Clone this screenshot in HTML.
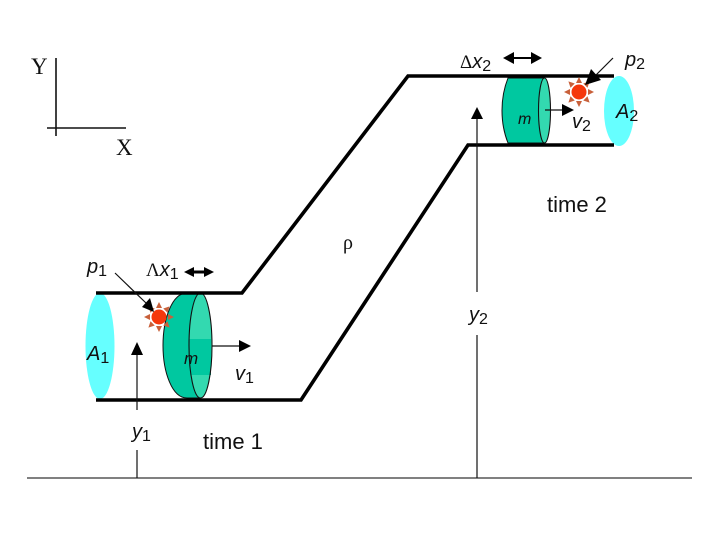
<!DOCTYPE html>
<html><head><meta charset="utf-8"><style>
html,body{margin:0;padding:0;background:#fff;width:720px;height:540px;overflow:hidden}
svg{display:block}
text{font-family:"Liberation Sans",sans-serif;fill:#111}
.s{font-family:"Liberation Serif",serif}
</style></head><body>
<svg width="720" height="540" viewBox="0 0 720 540" xmlns="http://www.w3.org/2000/svg">
<defs>
<g id="sun">
<g fill="#c8603a">
<path d="M-3,-9 L3,-9 L0,-15 Z"/>
<path d="M-3,-9 L3,-9 L0,-15 Z" transform="rotate(45)"/>
<path d="M-3,-9 L3,-9 L0,-15 Z" transform="rotate(90)"/>
<path d="M-3,-9 L3,-9 L0,-15 Z" transform="rotate(135)"/>
<path d="M-3,-9 L3,-9 L0,-15 Z" transform="rotate(180)"/>
<path d="M-3,-9 L3,-9 L0,-15 Z" transform="rotate(225)"/>
<path d="M-3,-9 L3,-9 L0,-15 Z" transform="rotate(270)"/>
<path d="M-3,-9 L3,-9 L0,-15 Z" transform="rotate(315)"/>
</g>
<circle r="7.5" fill="#f5380c"/>
</g>
</defs>

<!-- ground -->
<line x1="27" y1="478" x2="692" y2="478" stroke="#808080" stroke-width="2"/>

<!-- axes -->
<line x1="56" y1="58" x2="56" y2="136" stroke="#111" stroke-width="1.600"/>
<line x1="47" y1="128" x2="126" y2="128" stroke="#111" stroke-width="1.400"/>
<text class="s" x="31" y="74" font-size="23">Y</text>
<text class="s" x="116" y="155" font-size="23">X</text>

<!-- A ellipses -->
<ellipse cx="100" cy="346" rx="14.500" ry="53" fill="#66ffff"/>
<ellipse cx="619" cy="111" rx="15" ry="35" fill="#66ffff"/>

<!-- left cylinder -->
<path d="M187,293 L200,293 L200,398 L187,398 C172,398 163,372 163,345.500 C163,319 172,293 187,293 Z" fill="#00c8a0" stroke="#111" stroke-width="1"/>
<ellipse cx="200.500" cy="345.500" rx="11.500" ry="52.500" fill="#33d9b0"/>
<path d="M189,339 H211 V375 H190 Z" fill="#00c8a0"/>
<ellipse cx="200.500" cy="345.500" rx="11.500" ry="52.500" fill="none" stroke="#111" stroke-width="1.100"/>

<!-- right cylinder -->
<path d="M508,78 L544,78 L544,143 L508,143 C504,133 502,122 502,110.500 C502,99 504,88 508,78 Z" fill="#00c8a0" stroke="#111" stroke-width="1"/>
<ellipse cx="544.500" cy="110.500" rx="6" ry="32.500" fill="#33d9b0" stroke="#111" stroke-width="1.100"/>

<!-- pipes -->
<g fill="none" stroke="#000" stroke-width="3.600" stroke-linejoin="miter">
<polyline points="96,293 242,293 408,76 614,76"/>
<polyline points="96,400 301,400 468,145 614,145"/>
</g>

<!-- suns -->
<use href="#sun" transform="translate(159,317)"/>
<use href="#sun" transform="translate(579,92)"/>

<!-- y arrows -->
<g stroke="#111" stroke-width="1.200" fill="none">
<line x1="137" y1="355" x2="137" y2="410"/>
<line x1="137" y1="450" x2="137" y2="478"/>
<line x1="477" y1="118" x2="477" y2="292"/>
<line x1="477" y1="335" x2="477" y2="478"/>
<line x1="115" y1="273" x2="146" y2="303"/>
<line x1="613" y1="58" x2="594" y2="77"/>
<line x1="212" y1="346" x2="242" y2="346"/>
<line x1="545" y1="110" x2="564" y2="110"/>
</g>
<g fill="#000">
<path d="M137,342 L131,355 L143,355 Z"/>
<path d="M477,107 L471,119 L483,119 Z"/>
<path d="M154,312 L150,298 L142,307 Z"/>
<path d="M585,85 L601,80 L591,69 Z"/>
<path d="M251,346 L239,340 L239,352 Z"/>
<path d="M574,110 L562,104 L562,116 Z"/>
<!-- double arrows -->
<path d="M184,272 L194,267 L194,270.500 L204,270.500 L204,267 L214,272 L204,277 L204,273.500 L194,273.500 L194,277 Z"/>
<path d="M503,58 L514,52 L514,57 L531,57 L531,52 L542,58 L531,64 L531,59 L514,59 L514,64 Z"/>
</g>

<!-- labels -->
<text x="87" y="273" font-size="20" font-style="italic">p<tspan font-size="16" font-style="normal" dy="3">1</tspan></text>
<text x="146" y="276" font-size="20"><tspan font-family="Liberation Serif" font-size="19">Λ</tspan><tspan font-style="italic">x</tspan><tspan font-size="16" dy="3">1</tspan></text>
<text x="87" y="360" font-size="20" font-style="italic">A<tspan font-size="16" font-style="normal" dy="3">1</tspan></text>
<text x="184" y="364" font-size="17" font-style="italic">m</text>
<text x="235" y="380" font-size="20" font-style="italic">v<tspan font-size="16" font-style="normal" dy="3">1</tspan></text>
<text x="132" y="438" font-size="20" font-style="italic">y<tspan font-size="16" font-style="normal" dy="3">1</tspan></text>
<text x="203" y="449" font-size="22">time 1</text>
<text class="s" x="343" y="249" font-size="20">ρ</text>
<text x="469" y="321" font-size="20" font-style="italic">y<tspan font-size="16" font-style="normal" dy="3">2</tspan></text>
<text x="547" y="212" font-size="22">time 2</text>
<text x="460" y="68" font-size="20"><tspan font-family="Liberation Serif" font-size="19">Δ</tspan><tspan font-style="italic">x</tspan><tspan font-size="16" dy="3">2</tspan></text>
<text x="625" y="66" font-size="20" font-style="italic">p<tspan font-size="16" font-style="normal" dy="3">2</tspan></text>
<text x="616" y="118" font-size="20" font-style="italic">A<tspan font-size="16" font-style="normal" dy="3">2</tspan></text>
<text x="518" y="124" font-size="16" font-style="italic">m</text>
<text x="572" y="128" font-size="20" font-style="italic">v<tspan font-size="16" font-style="normal" dy="3">2</tspan></text>
</svg>
</body></html>
